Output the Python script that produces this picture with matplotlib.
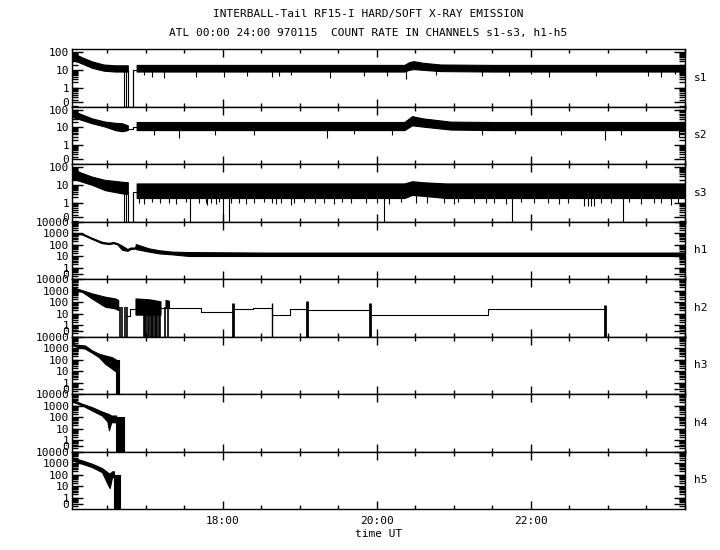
import numpy as np
import matplotlib
matplotlib.use('Agg')
import matplotlib.pyplot as plt
from matplotlib.ticker import FixedLocator, LogLocator, NullFormatter, MultipleLocator

plt.rcParams['font.family'] = ['DejaVu Sans Mono']
plt.rcParams['font.size'] = 8

ZERO = 0.01   # count rate 0 -> below the axis floor (clipped)

# ---------------- s1 ----------------
s1_t1  = [16.04, 16.10, 16.20, 16.30, 16.45, 16.60, 16.765]
s1_lo1 = [35, 30, 20, 13, 9, 8, 8]
s1_hi1 = [85, 70, 45, 30, 20, 18, 18]
s1_gap_t = [16.765, 16.83, 16.88]
s1_gap_v = [ZERO, 10, 10]
s1_drop_t = [16.717, 16.743]
s1_t2  = [16.88, 17.5, 18.5, 19.5, 20.36, 20.42, 20.48, 20.60, 20.83, 21.5, 22.5, 23.5, 24.0]
s1_lo2 = [8, 8, 8, 8, 8, 10, 11, 10, 8.5, 8, 8, 8, 8]
s1_hi2 = [19, 19, 19, 19, 19, 27, 31, 25, 20, 19, 19, 19, 19]
s1_spk_t = [16.97, 17.08, 17.23, 17.65, 18.01, 18.32, 18.64, 18.73, 18.88, 19.39, 19.83,
            20.14, 20.38, 20.77, 21.37, 21.72, 22.00, 22.24, 22.85, 23.52, 23.70, 23.87]
s1_spk_v = [5.1, 4.1, 3.3, 4.1, 4.1, 4.5, 3.8, 4.5, 5.1, 3.3, 4.5,
            4.5, 3.0, 5.1, 4.5, 4.5, 5.6, 4.1, 4.5, 4.5, 4.1, 5.6]

# ---------------- s2 ----------------
s2_t1  = [16.04, 16.10, 16.30, 16.47, 16.60, 16.69, 16.765]
s2_lo1 = [40, 32, 17, 11, 7, 6, 7]
s2_hi1 = [95, 70, 32, 21, 18, 17, 13]
s2_gap_t = [16.765, 16.83, 16.88]
s2_gap_v = [8.5, 11, 11]
s2_t2  = [16.88, 17.5, 18.5, 19.5, 20.36, 20.46, 20.60, 20.96, 21.5, 22.5, 23.5, 24.0]
s2_lo2 = [7, 7, 7, 7, 7, 13, 11, 7.5, 7, 7, 7, 7]
s2_hi2 = [20, 20, 20, 20, 20, 43, 32, 21, 20, 20, 20, 20]
s2_spk_t = [17.10, 17.43, 17.90, 18.40, 19.36, 19.70, 20.20, 21.37, 21.80, 22.40, 22.97, 23.18, 23.93]
s2_spk_v = [3.6, 2.6, 3.6, 3.6, 2.6, 4.0, 3.6, 3.6, 4.0, 3.6, 2.0, 3.6, 3.0]

# ---------------- s3 ----------------
s3_t1  = [16.04, 16.15, 16.30, 16.47, 16.69, 16.765]
s3_lo1 = [23, 16, 10, 5, 3.3, 3]
s3_hi1 = [85, 50, 29, 19, 15, 14]
s3_gap_t = [16.765, 16.83, 16.88]
s3_gap_v = [ZERO, 3.8, 3.8]
s3_drop_t = [16.717, 16.743, 17.58, 18.00, 18.08, 20.09, 21.76, 23.20]
s3_t2  = [16.88, 17.5, 18.5, 19.5, 20.36, 20.46, 20.60, 20.90, 21.5, 22.5, 23.5, 24.0]
s3_lo2 = [1.8, 1.8, 1.8, 1.8, 1.8, 2.7, 2.4, 1.8, 1.8, 1.8, 1.8, 1.8]
s3_hi2 = [12, 12, 12, 12, 12, 16, 14, 12, 12, 12, 12, 12]
s3_spk_t = [16.91, 16.97, 17.08, 17.19, 17.30, 17.39, 17.52, 17.69, 17.78, 17.80, 17.84, 17.91,
            17.95, 18.10, 18.21, 18.30, 18.41, 18.54, 18.64, 18.69, 18.75, 18.88, 18.92,
            19.05, 19.20, 19.31, 19.44, 19.55, 19.66, 19.86, 20.01, 20.16, 20.31, 20.51,
            20.66, 20.87, 21.00, 21.05, 21.27, 21.42, 21.53, 21.68, 21.87, 22.05, 22.22,
            22.37, 22.48, 22.70, 22.74, 22.79, 22.83, 22.92, 23.05, 23.28, 23.43, 23.61,
            23.70, 23.83, 23.91]
s3_spk_v = [1.0, 0.8, 1.1, 0.9, 1.0, 0.8, 1.1, 1.0, 0.9, 0.7, 1.0, 0.8,
            1.1, 0.9, 1.0, 0.8, 1.0, 1.1, 0.9, 0.8, 1.0, 0.7, 1.0,
            1.1, 0.9, 1.0, 0.8, 1.1, 1.0, 0.9, 1.0, 0.8, 1.1, 1.0,
            0.9, 1.0, 0.8, 1.1, 1.0, 0.9, 1.0, 0.8, 1.1, 0.9, 1.0,
            0.8, 1.0, 0.6, 0.6, 0.6, 0.6, 1.0, 0.9, 1.1, 0.8, 1.0,
            0.9, 0.7, 1.0]

# ---------------- h1 ----------------
h1_t  = [16.04, 16.17, 16.30, 16.43, 16.52, 16.58, 16.63, 16.69, 16.76, 16.80, 16.86, 16.87,
         17.04, 17.17, 17.34, 17.56, 18.5, 19.5, 20.5, 21.5, 22.5, 23.5, 24.0]
h1_lo = [800, 750, 300, 130, 110, 130, 100, 35, 28, 40, 45, 40,
         24, 17, 14, 10, 10, 10, 10, 10, 10, 10, 10]
h1_hi = [1050, 950, 380, 170, 140, 165, 130, 80, 40, 55, 55, 108,
         46, 32, 24, 22, 20, 20, 20, 20, 20, 20, 20]

# ---------------- h2 ----------------
h2_tA  = [16.04, 16.17, 16.30, 16.47, 16.60, 16.64]
h2_loA = [1100, 780, 200, 39, 28, 20]
h2_hiA = [2100, 1070, 560, 290, 205, 150]
h2_tB  = [16.865, 16.95, 17.05, 17.19]
h2_loB = [8, 8, 8, 8]
h2_hiB = [205, 190, 170, 115]
h2_tC  = [17.255, 17.30]
h2_loC = [32, 32]
h2_hiC = [150, 130]
h2_drop_t = [16.669, 16.691, 16.734, 16.756, 16.973, 16.986, 17.004, 17.030, 17.047, 17.064,
             17.082, 17.099, 17.116, 17.134, 17.151, 17.168, 17.181, 17.255, 17.286]
h2_step_t = [16.756, 16.80, 16.865, 17.19, 17.255, 17.30, 17.71, 18.13, 18.39, 18.64,
             18.87, 19.10, 19.91, 21.44, 22.97, 24.0]
h2_step_v = [6.4, 23, 23, 32, 32, 32, 14, 24, 32, 6.8,
             26, 21, 6.8, 26, ZERO, ZERO]
h2_burst_t = [18.13, 18.64, 19.10, 19.91, 22.97]
h2_burst_v = [80, 87, 120, 87, 50]
h2_burst_w = [2.0, 1.0, 2.0, 2.0, 2.0]

# ---------------- h3 - h5 ----------------
h3_t  = [16.04, 16.07, 16.21, 16.30, 16.39, 16.47, 16.56, 16.62]
h3_lo = [2000, 1500, 870, 390, 160, 43, 16, 8]
h3_hi = [6500, 2000, 1660, 620, 320, 225, 160, 90]
h3_blk = (16.615, 16.648, 90)

h4_t  = [16.04, 16.08, 16.17, 16.30, 16.43, 16.50, 16.52, 16.55, 16.613]
h4_lo = [2200, 1800, 1030, 370, 135, 40, 7, 35, 35]
h4_hi = [3100, 2500, 1440, 720, 300, 200, 180, 135, 135]
h4_blk = (16.613, 16.713, 110)

h5_t  = [16.04, 16.08, 16.17, 16.30, 16.43, 16.50, 16.53, 16.56, 16.585]
h5_lo = [1700, 1400, 870, 440, 160, 16, 6.6, 59, 60]
h5_hi = [3200, 2500, 1700, 870, 360, 160, 120, 190, 190]
h5_blk = (16.585, 16.67, 96)

names = ['s1', 's2', 's3', 'h1', 'h2', 'h3', 'h4', 'h5']

fig = plt.figure(figsize=(7.2, 5.5), dpi=100)
fig.subplots_adjust(left=0.1, right=0.9507, top=0.9109, bottom=0.0745, hspace=0)
axes = fig.subplots(8, 1, sharex=True)

K = 'black'
lw = 0.8


def band(ax, t, lo, hi):
    ax.fill_between(t, lo, hi, color=K, lw=lw, edgecolor=K)


def setup(ax, name, soft):
    ax.set_yscale('log')
    ax.set_xlim(16.04, 24.0)
    if soft:
        ax.set_ylim(0.085, 150)
        ax.yaxis.set_major_locator(FixedLocator([0.16, 1, 10, 100]))
        ax.set_yticklabels(['0', '1', '10', '100'])
    else:
        ax.set_ylim(0.1, 10000)
        ax.yaxis.set_major_locator(FixedLocator([0.3, 1, 10, 100, 1000, 10000]))
        ax.set_yticklabels(['0', '1', '10', '100', '1000', '10000'])
    ax.yaxis.set_minor_locator(LogLocator(base=10, subs=np.arange(2, 10), numticks=20))
    ax.yaxis.set_minor_formatter(NullFormatter())
    ax.xaxis.set_major_locator(MultipleLocator(2))
    ax.xaxis.set_minor_locator(MultipleLocator(0.5))
    ax.tick_params(axis='y', which='major', direction='in', length=8, width=1,
                   left=True, right=True, labelsize=8, pad=2)
    ax.tick_params(axis='y', which='minor', direction='in', length=4, width=1,
                   left=True, right=True)
    ax.tick_params(axis='x', which='major', direction='in', length=6, width=1,
                   top=True, bottom=True, labelsize=8, pad=5)
    ax.tick_params(axis='x', which='minor', direction='in', length=3, width=1,
                   top=True, bottom=True)
    for sp in ax.spines.values():
        sp.set_linewidth(1)
    ax.text(1.016, 0.5, name, transform=ax.transAxes, va='center', ha='left', fontsize=8)


# s1
ax = axes[0]
band(ax, s1_t1, s1_lo1, s1_hi1)
band(ax, s1_t2, s1_lo2, s1_hi2)
ax.step(s1_gap_t, s1_gap_v, where='post', color=K, lw=lw)
ax.vlines([s1_gap_t[0], s1_gap_t[1]], ZERO, 10, color=K, lw=lw)
ax.vlines(s1_drop_t, ZERO, 10, color=K, lw=lw)
ax.vlines(s1_spk_t, s1_spk_v, 10, color=K, lw=lw)

# s2
ax = axes[1]
band(ax, s2_t1, s2_lo1, s2_hi1)
band(ax, s2_t2, s2_lo2, s2_hi2)
ax.step(s2_gap_t, s2_gap_v, where='post', color=K, lw=lw)
ax.vlines(s2_gap_t[1], s2_gap_v[0], s2_gap_v[1], color=K, lw=lw)
ax.vlines(s2_spk_t, s2_spk_v, 10, color=K, lw=lw)

# s3
ax = axes[2]
band(ax, s3_t1, s3_lo1, s3_hi1)
band(ax, s3_t2, s3_lo2, s3_hi2)
ax.step(s3_gap_t, s3_gap_v, where='post', color=K, lw=lw)
ax.vlines([s3_gap_t[0], s3_gap_t[1]], ZERO, 4, color=K, lw=lw)
ax.vlines(s3_drop_t, ZERO, 4, color=K, lw=lw)
ax.vlines(s3_spk_t, s3_spk_v, 3, color=K, lw=lw)

# h1
ax = axes[3]
band(ax, h1_t, h1_lo, h1_hi)

# h2
ax = axes[4]
band(ax, h2_tA, h2_loA, h2_hiA)
band(ax, h2_tB, h2_loB, h2_hiB)
band(ax, h2_tC, h2_loC, h2_hiC)
ax.vlines(h2_drop_t, ZERO, 40, color=K, lw=1.2)
ax.step(h2_step_t, h2_step_v, where='post', color=K, lw=lw)
for bt, bv, bw in zip(h2_burst_t, h2_burst_v, h2_burst_w):
    ax.vlines(bt, ZERO, bv, color=K, lw=bw)

# h3-h5
for ax, t, lo, hi, blk in [(axes[5], h3_t, h3_lo, h3_hi, h3_blk),
                           (axes[6], h4_t, h4_lo, h4_hi, h4_blk),
                           (axes[7], h5_t, h5_lo, h5_hi, h5_blk)]:
    band(ax, t, lo, hi)
    ax.fill_between([blk[0], blk[1]], ZERO, blk[2], color=K, lw=lw)

for i, ax in enumerate(axes):
    setup(ax, names[i], i < 3)

axes[-1].set_xticks([18, 20, 22])
axes[-1].set_xticklabels(['18:00', '20:00', '22:00'])
axes[-1].set_xlabel('time UT', fontsize=8, labelpad=2)

fig.text(0.511, 0.9745, 'INTERBALL-Tail RF15-I HARD/SOFT X-RAY EMISSION', ha='center', va='center', fontsize=8)
fig.text(0.511, 0.940, 'ATL 00:00 24:00 970115  COUNT RATE IN CHANNELS s1-s3, h1-h5',
         ha='center', va='center', fontsize=8)

fig.savefig('out.png', dpi=100)
